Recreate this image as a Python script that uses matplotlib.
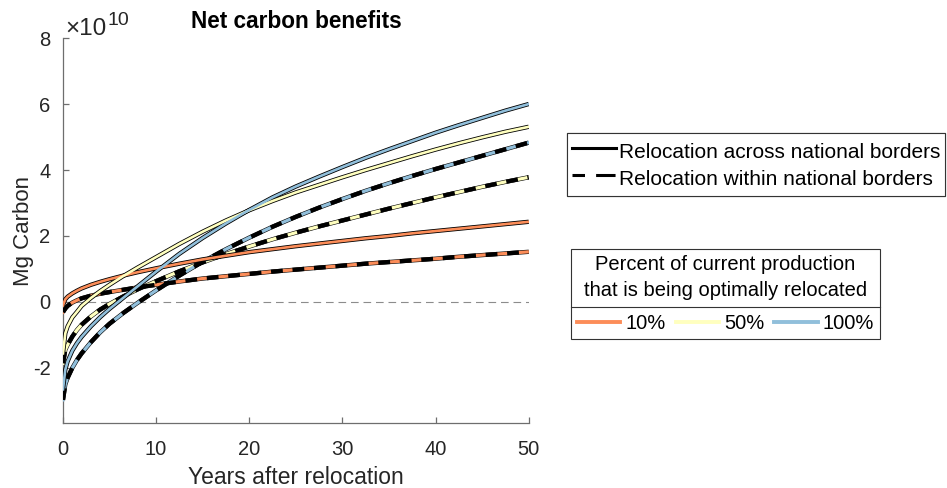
import matplotlib
matplotlib.use("Agg")
import matplotlib.pyplot as plt
from matplotlib.lines import Line2D
from matplotlib.ticker import FuncFormatter
import numpy as np

plt.rcParams['font.family'] = ['Liberation Sans', 'DejaVu Sans']
plt.rcParams['axes.unicode_minus'] = False
plt.rcParams['lines.scale_dashes'] = False

# Years after relocation
years = [0, 0.25, 0.5, 1, 1.5, 2, 3, 4, 5, 6.5, 8, 10, 12.5, 15, 17.5, 20,
         22.5, 25, 27.5, 30, 32.5, 35, 37.5, 40, 42.5, 45, 47.5, 50]

# Net carbon benefits, in units of 1e10 Mg C
across_10 = [-0.10, 0.08, 0.16, 0.26, 0.34, 0.41, 0.52, 0.61, 0.69, 0.80, 0.90, 1.02, 1.16, 1.29,
             1.40, 1.51, 1.60, 1.69, 1.77, 1.85, 1.93, 2.00, 2.08, 2.15, 2.22, 2.29, 2.36, 2.43]
across_50 = [-1.56, -0.95, -0.74, -0.47, -0.30, -0.12, 0.12, 0.33, 0.52, 0.79, 1.04, 1.36, 1.76, 2.13,
             2.47, 2.78, 3.06, 3.32, 3.55, 3.78, 4.00, 4.21, 4.42, 4.62, 4.81, 4.99, 5.16, 5.31]
across_100 = [-2.65, -2.05, -1.80, -1.48, -1.25, -1.06, -0.74, -0.46, -0.21, 0.13, 0.47, 0.92, 1.46, 1.94,
              2.38, 2.79, 3.17, 3.50, 3.80, 4.09, 4.37, 4.63, 4.88, 5.13, 5.36, 5.58, 5.80, 6.00]
within_10 = [-0.31, -0.20, -0.12, -0.02, 0.05, 0.11, 0.19, 0.25, 0.30, 0.37, 0.44, 0.52, 0.62, 0.71,
             0.78, 0.85, 0.92, 0.98, 1.04, 1.10, 1.16, 1.21, 1.26, 1.31, 1.37, 1.42, 1.47, 1.52]
within_50 = [-1.86, -1.45, -1.30, -1.05, -0.85, -0.69, -0.44, -0.23, -0.06, 0.17, 0.38, 0.63, 0.93, 1.20,
             1.45, 1.68, 1.90, 2.10, 2.29, 2.47, 2.65, 2.83, 3.00, 3.17, 3.33, 3.49, 3.64, 3.78]
within_100 = [-2.97, -2.50, -2.30, -2.00, -1.76, -1.56, -1.22, -0.92, -0.66, -0.33, -0.03, 0.35, 0.80, 1.22,
              1.60, 1.95, 2.28, 2.58, 2.86, 3.12, 3.37, 3.60, 3.82, 4.03, 4.23, 4.43, 4.63, 4.83]
SCALE = 1e10

x_ticks = [0, 10, 20, 30, 40, 50]
y_ticks = [-2, 0, 2, 4, 6, 8]

share_labels = ['10%', '50%', '100%']
share_colors = ['#fc8d59', '#ffffbf', '#91bfdb']

fig = plt.figure(figsize=(9.47, 4.88), dpi=100)
ax = fig.add_axes([0.0665, 0.1332, 0.4918, 0.7888])

t = np.array(years)
ax.plot([0, 50], [0, 0], color='#8c8c8c', lw=0.8, ls=(0, (5.5, 3.5)), zorder=1)

black_w = 3.1
color_w = 1.9
dash = (0, (8.5, 7.0))

for ys, c in zip([within_10, within_50, within_100], share_colors):
    y = np.array(ys) * SCALE
    ax.plot(t, y, color='black', lw=black_w, solid_capstyle='butt', zorder=2)
    ax.plot(t, y, color=c, lw=color_w + 0.4, zorder=3)
    ax.plot(t, y, color='black', lw=black_w, ls=dash, dash_capstyle='butt', zorder=4)

for ys, c in zip([across_10, across_50, across_100], share_colors):
    y = np.array(ys) * SCALE
    ax.plot(t, y, color='black', lw=black_w, solid_capstyle='butt', zorder=5)
    ax.plot(t, y, color=c, lw=color_w, zorder=6)

ax.set_xlim(0, 50)
ax.set_ylim(-3.67 * SCALE, 8 * SCALE)
ax.set_xticks(x_ticks)
ax.set_yticks([v * SCALE for v in y_ticks])
ax.yaxis.set_major_formatter(FuncFormatter(lambda v, p: f"{v / SCALE:g}"))

axis_col = '#6e6e6e'
text_col = '#262626'
for s in ['top', 'right']:
    ax.spines[s].set_visible(False)
for s in ['left', 'bottom']:
    ax.spines[s].set_color(axis_col)
    ax.spines[s].set_linewidth(0.9)
ax.tick_params(direction='in', length=4, width=0.9, color=axis_col,
               labelcolor=text_col, labelsize=14.5)
ax.tick_params(axis='x', pad=12)
ax.tick_params(axis='y', pad=9)

# Exponent label for the y axis
exp_base = ax.text(0.006, 0.995, '×10', transform=ax.transAxes, ha='left', va='bottom',
                   fontsize=17.5, color=text_col)
ax.annotate('10', xy=(1.0, 0.5), xycoords=exp_base, ha='left', va='bottom',
            fontsize=14, color=text_col)

ax.set_xlabel('Years after relocation', fontsize=16.5, color=text_col, labelpad=5)
ax.set_ylabel('Mg Carbon', fontsize=16, color=text_col, labelpad=-1)
ax.set_title('Net carbon benefits', fontsize=16.3, fontweight='bold', color='black', pad=7)

# Line-style legend
style_handles = [Line2D([], [], color='black', lw=2.2),
                 Line2D([], [], color='black', lw=2.2, ls=(0, (9, 8, 14, 8)))]
leg1 = fig.legend(style_handles,
                  ['Relocation across national borders', 'Relocation within national borders'],
                  loc='upper left', bbox_to_anchor=(0.5987, 0.7275), borderaxespad=0,
                  fontsize=15.0, frameon=True, fancybox=False, framealpha=1,
                  edgecolor='#333333', handlelength=2.15, handletextpad=0.15,
                  handleheight=1.62, labelspacing=0.0, borderpad=0.22)
leg1.get_frame().set_linewidth(0.8)

# Colour legend for share of production
share_handles = [Line2D([], [], color=c, lw=2.8) for c in share_colors]
leg2 = fig.legend(share_handles, share_labels, ncol=3,
                  title='Percent of current production\nthat is being optimally relocated',
                  title_fontsize=14.5, loc='upper left', bbox_to_anchor=(0.603, 0.4898),
                  borderaxespad=0, fontsize=14.5, frameon=True, fancybox=False,
                  framealpha=1, edgecolor='#333333', handlelength=2.15,
                  handletextpad=0.25, columnspacing=0.5, borderpad=0.3,
                  labelspacing=0.7)
leg2.get_frame().set_linewidth(0.8)
leg2.get_title().set_multialignment('center')
leg2.get_title().set_linespacing(1.45)
fig.add_artist(leg1)

fig.canvas.draw()
r = fig.canvas.get_renderer()
fb = leg2.get_frame().get_window_extent(r)
tb = leg2.get_title().get_window_extent(r)
hb = leg2._legend_handle_box.get_window_extent(r)
ysep = 0.5 * (tb.y0 + hb.y1) / fig.bbox.height
fig.add_artist(Line2D([fb.x0 / fig.bbox.width, fb.x1 / fig.bbox.width], [ysep, ysep],
                      transform=fig.transFigure, color='#333333', lw=0.8, zorder=10))

fig.savefig('out.png', dpi=100)
